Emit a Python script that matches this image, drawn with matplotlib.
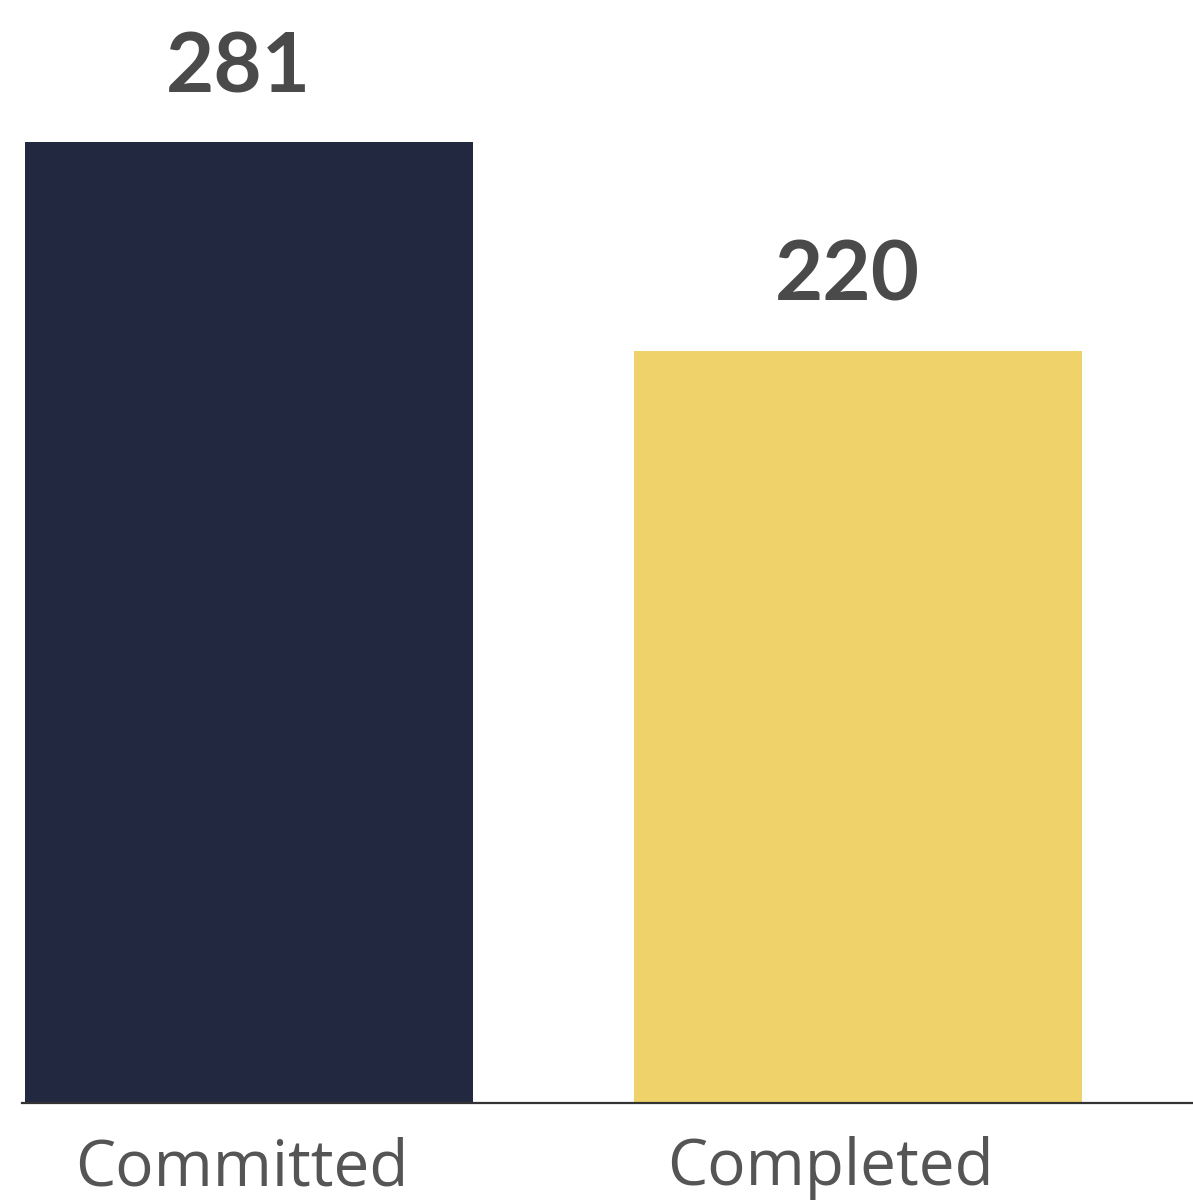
import matplotlib
matplotlib.use("Agg")
import matplotlib.pyplot as plt

categories = ["Committed", "Completed"]
values = [281, 220]
colors = ["#222840", "#EFD36A"]

plt.rcParams["font.family"] = ["Open Sans", "DejaVu Sans"]

fig = plt.figure(figsize=(11.93, 12.02), dpi=100)
ax = fig.add_axes([22 / 1193, 99 / 1202, 1171 / 1193, 1103 / 1202])

x = range(len(categories))
ax.bar(x, values, width=0.736, color=colors)
ax.set_xlim(-0.373, 1.55)
ax.set_ylim(0, 322.5)

for xi, v in zip(x, values):
    ax.text(xi - 0.018, v + 14.5, str(v), ha="center", va="baseline",
            fontsize=60, fontweight="bold", color="#4a4a4a",
            family=["Lato", "DejaVu Sans"])

# category labels sit a bit left of the bar centres in the original
for xi, name, dx in zip(x, categories, [-0.012, -0.045]):
    ax.text(xi + dx, -24.0, name, ha="center", va="baseline",
            fontsize=46, color="#555555")

ax.set_xticks([])
ax.set_yticks([])
for s in ["top", "right", "left"]:
    ax.spines[s].set_visible(False)
ax.spines["bottom"].set_color("#333333")
ax.spines["bottom"].set_linewidth(1.6)

fig.savefig("out.png", dpi=100)
